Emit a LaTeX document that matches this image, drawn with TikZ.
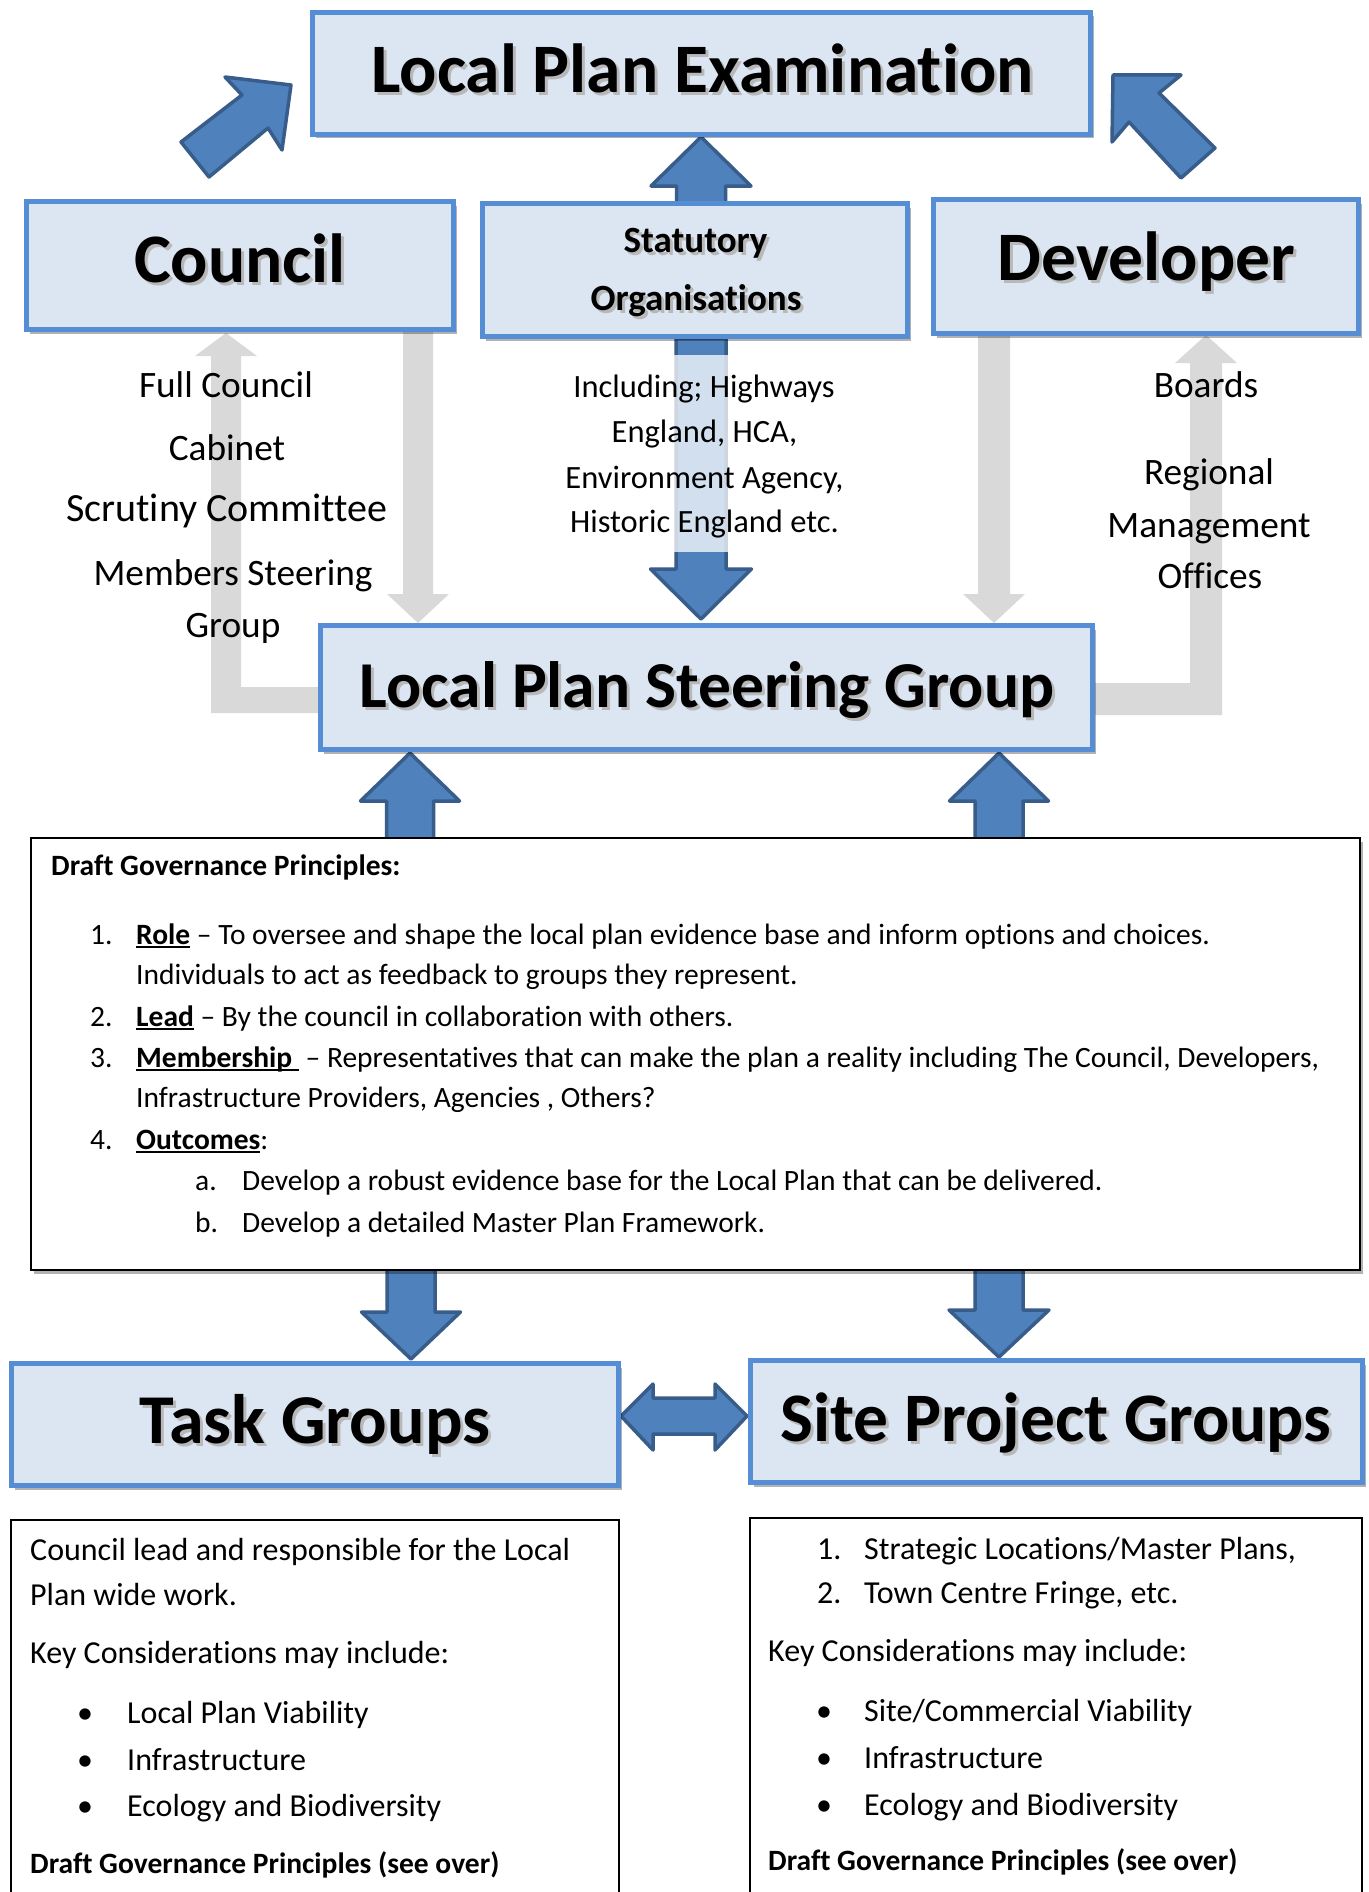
\documentclass[tikz,border=0pt]{standalone}
\usepackage{fontspec}
\setmainfont{Carlito}[Ligatures={TeX,NoCommon}]
\usetikzlibrary{calc,shadows}
\definecolor{boxfill}{HTML}{DCE6F2}
\definecolor{boxline}{HTML}{558ED5}
\definecolor{arrfill}{HTML}{4F81BD}
\definecolor{arrline}{HTML}{385D8A}
\definecolor{grayarr}{HTML}{D9D9D9}
\newcommand\myfs[1]{\fontsize{#1}{#1}\selectfont}
\newcommand\shtxt[1]{\rlap{\kern3pt\raisebox{-3pt}{\textcolor{black!28}{#1}}}#1}
\newcommand\myul[1]{\setbox0\hbox{#1}\rlap{\rule[-4pt]{\wd0}{2pt}}\box0\relax}
\newcommand\blockarr[6]{%
  \coordinate (ba-m) at ($(#2)!#5!(#1)$);
  \path[#6] ($(#1)!#3!90:(#2)$) -- ($(ba-m)!#3!-90:(#1)$) -- ($(ba-m)!#4!-90:(#1)$) -- (#2)
    -- ($(ba-m)!#4!90:(#1)$) -- ($(ba-m)!#3!90:(#1)$) -- ($(#1)!#3!-90:(#2)$) -- cycle;}
\tikzset{
  bluearr/.style={fill=arrfill, draw=arrline, line width=3.5pt, line join=round},
  grayshape/.style={fill=grayarr, draw=none},
  titlebox/.style={draw=boxline, fill=boxfill, line width=5pt, inner sep=0pt,
    drop shadow={shadow xshift=3pt, shadow yshift=-4pt, opacity=0.3, fill=black}},
  textbox/.style={draw=black, fill=white, line width=2.2pt, inner sep=0pt},
  txt/.style={inner sep=0pt, anchor=base},
  ltxt/.style={inner sep=0pt, anchor=base west},
  titletxt/.style={txt, font=\myfs{69.5}\bfseries},
  sidetxt/.style={txt, font=\myfs{37.3}},
  midtxt/.style={txt, font=\myfs{32.5}},
  bodytxt/.style={ltxt, font=\myfs{29.5}},
  lowtxt/.style={ltxt, font=\myfs{32}},
}
\begin{document}
\begin{tikzpicture}[x=1pt, y=-1pt]
\useasboundingbox[fill=white] (0,0) rectangle (1368,1892);

% ---------- gray feedback arrows ----------
\path[grayshape] (330,687) -- (241,687) -- (241,356) -- (257,356) -- (226,333) -- (195,356)
  -- (211,356) -- (211,713) -- (330,713) -- cycle;
\path[grayshape] (1085,683) -- (1190,683) -- (1190,363) -- (1175,363) -- (1206,335) -- (1237,363)
  -- (1222,363) -- (1222,715) -- (1085,715) -- cycle;
\coordinate (gl-t) at (418,330); \coordinate (gl-h) at (418,623);
\blockarr{gl-t}{gl-h}{15pt}{31pt}{29pt}{grayshape}
\coordinate (gr-t) at (994,334); \coordinate (gr-h) at (994,623);
\blockarr{gr-t}{gr-h}{16pt}{31pt}{29pt}{grayshape}

% ---------- blue arrows ----------
\coordinate (su-t) at (701,215); \coordinate (su-h) at (701,137);
\blockarr{su-t}{su-h}{24.5pt}{50pt}{49pt}{bluearr}
\coordinate (sd-t) at (701,338); \coordinate (sd-h) at (701,619);
\blockarr{sd-t}{sd-h}{25pt}{50.5pt}{50pt}{bluearr}
\coordinate (ul-t) at (410,845); \coordinate (ul-h) at (410,753);
\blockarr{ul-t}{ul-h}{23.5pt}{49.5pt}{48pt}{bluearr}
\coordinate (ur-t) at (999,845); \coordinate (ur-h) at (999,753);
\blockarr{ur-t}{ur-h}{24pt}{49.5pt}{48pt}{bluearr}
\coordinate (dl-t) at (411,1265); \coordinate (dl-h) at (411,1359);
\blockarr{dl-t}{dl-h}{24pt}{49.5pt}{47pt}{bluearr}
\coordinate (dr-t) at (999,1265); \coordinate (dr-h) at (999,1357);
\blockarr{dr-t}{dr-h}{24pt}{50pt}{47pt}{bluearr}
% diagonal arrows
\path[bluearr] (181,142) -- (209,177) -- (268,128) -- (282,150) -- (291,85) -- (225,77) -- (242,95) -- cycle;
\path[bluearr] (1113,75) -- (1181,75) -- (1159,93) -- (1215,148) -- (1181,178) -- (1129,122) -- (1112,142) -- cycle;
% double arrow
\path[bluearr] (621,1416) -- (653,1384) -- (653,1398) -- (715,1398) -- (715,1384) -- (747,1416)
  -- (715,1450) -- (715,1434) -- (653,1434) -- (653,1450) -- cycle;

% ---------- boxes ----------
\node[titlebox, minimum width=778pt, minimum height=122pt] (lpe) at (701.5,73.5) {};
\node[titlebox, minimum width=427pt, minimum height=128pt] (council) at (240,265.5) {};
\node[titlebox, minimum width=425pt, minimum height=133pt] (stat) at (695,270) {};
\node[titlebox, minimum width=425pt, minimum height=134pt] (dev) at (1146,266.5) {};
\node[titlebox, minimum width=772pt, minimum height=124pt] (lpsg) at (706.5,687.5) {};
\node[titlebox, minimum width=607pt, minimum height=122pt] (task) at (315,1424.5) {};
\node[titlebox, minimum width=612pt, minimum height=122pt] (site) at (1056.5,1421.5) {};
\node[textbox, minimum width=1329pt, minimum height=432pt,
  drop shadow={shadow xshift=3pt, shadow yshift=-4pt, opacity=0.3, fill=black}] (draft) at (695.5,1054) {};
\node[textbox, minimum width=608pt, minimum height=380pt] (tasktxt) at (315,1710) {};
\node[textbox, minimum width=612pt, minimum height=382pt] (sitetxt) at (1056,1709) {};

% translucent text panel over the statutory arrow shaft
\fill[white, opacity=0.75] (670,355) rectangle (732,552);

% ---------- titles ----------
\node[titletxt] (lpe-t) at (702.5,93) {\shtxt{Local Plan Examination}};
\node[titletxt] (council-t) at (240,282) {\shtxt{Council}};
\node[titletxt] (dev-t) at (1146.5,280) {\shtxt{Developer}};
\node[txt, font=\myfs{37}\bfseries] (stat-t1) at (695.5,252) {\shtxt{Statutory}};
\node[txt, font=\myfs{37}\bfseries] (stat-t2) at (696,310) {\shtxt{Organisations}};
\node[titletxt, font=\myfs{65.5}\bfseries] (lpsg-t) at (707,707) {\shtxt{Local Plan Steering Group}};
\node[titletxt, font=\myfs{70}\bfseries] (task-t) at (315,1443) {\shtxt{Task Groups}};
\node[titletxt] (site-t) at (1056,1441) {\shtxt{Site Project Groups}};

% ---------- side texts ----------
\node[sidetxt] (c1) at (226,397) {Full Council};
\node[sidetxt] (c2) at (227,460) {Cabinet};
\node[sidetxt, font=\myfs{40}] (c3) at (227,521) {Scrutiny Committee};
\node[sidetxt] (c4) at (233,585) {Members Steering};
\node[sidetxt] (c5) at (233,637) {Group};

\node[midtxt] (s1) at (704,397) {Including; Highways};
\node[midtxt] (s2) at (704.5,442) {England, HCA,};
\node[midtxt] (s3) at (704.5,488) {Environment Agency,};
\node[midtxt] (s4) at (704.5,532) {Historic England etc.};

\node[sidetxt] (d1) at (1206,397) {Boards};
\node[sidetxt] (d2) at (1209,484) {Regional};
\node[sidetxt] (d3) at (1209,537) {Management};
\node[sidetxt] (d4) at (1210,588) {Offices};

% ---------- draft governance principles ----------
\node[bodytxt, font=\myfs{29.5}\bfseries] (dg-h) at (51,875) {Draft Governance Principles:};
\node[bodytxt] (dg-1n) at (90,944) {1.};
\node[bodytxt] (dg-1) at (136,944) {\myul{\textbf{Role}} – To oversee and shape the local plan evidence base and inform options and choices.};
\node[bodytxt] (dg-1b) at (136,984) {Individuals to act as feedback to groups they represent.};
\node[bodytxt] (dg-2n) at (90,1026) {2.};
\node[bodytxt] (dg-2) at (136,1026) {\myul{\textbf{Lead}} – By the council in collaboration with others.};
\node[bodytxt] (dg-3n) at (90,1067) {3.};
\node[bodytxt] (dg-3) at (136,1067) {\myul{\textbf{Membership }} – Representatives that can make the plan a reality including The Council, Developers,};
\node[bodytxt] (dg-3b) at (136,1107) {Infrastructure Providers, Agencies , Others?};
\node[bodytxt] (dg-4n) at (90,1149) {4.};
\node[bodytxt] (dg-4) at (136,1149) {\myul{\textbf{Outcomes}}:};
\node[bodytxt] (dg-an) at (195,1190) {a.};
\node[bodytxt] (dg-a) at (242,1190) {Develop a robust evidence base for the Local Plan that can be delivered.};
\node[bodytxt] (dg-bn) at (195,1232) {b.};
\node[bodytxt] (dg-b) at (242,1232) {Develop a detailed Master Plan Framework.};

% ---------- task groups text ----------
\node[lowtxt] (t1) at (30,1560) {Council lead and responsible for the Local};
\node[lowtxt] (t2) at (30,1605) {Plan wide work.};
\node[lowtxt] (t3) at (30,1663) {Key Considerations may include:};
\node[txt, font=\myfs{32}] (tb1) at (85,1723) {\textbullet};
\node[lowtxt] (t4) at (127,1723) {Local Plan Viability};
\node[txt, font=\myfs{32}] (tb2) at (85,1770) {\textbullet};
\node[lowtxt] (t5) at (127,1770) {Infrastructure};
\node[txt, font=\myfs{32}] (tb3) at (85,1816) {\textbullet};
\node[lowtxt] (t6) at (127,1816) {Ecology and Biodiversity};
\node[ltxt, font=\myfs{29.5}\bfseries] (t7) at (30,1873) {Draft Governance Principles (see over)};

% ---------- site project groups text ----------
\node[lowtxt] (p1n) at (817,1559) {1.};
\node[lowtxt] (p1) at (864,1559) {Strategic Locations/Master Plans,};
\node[lowtxt] (p2n) at (817,1603) {2.};
\node[lowtxt] (p2) at (864,1603) {Town Centre Fringe, etc.};
\node[lowtxt] (p3) at (768,1661) {Key Considerations may include:};
\node[txt, font=\myfs{32}] (pb1) at (824,1721) {\textbullet};
\node[lowtxt] (p4) at (864,1721) {Site/Commercial Viability};
\node[txt, font=\myfs{32}] (pb2) at (824,1768) {\textbullet};
\node[lowtxt] (p5) at (864,1768) {Infrastructure};
\node[txt, font=\myfs{32}] (pb3) at (824,1815) {\textbullet};
\node[lowtxt] (p6) at (864,1815) {Ecology and Biodiversity};
\node[ltxt, font=\myfs{29.5}\bfseries] (p7) at (768,1870) {Draft Governance Principles (see over)};
\end{tikzpicture}
\end{document}
